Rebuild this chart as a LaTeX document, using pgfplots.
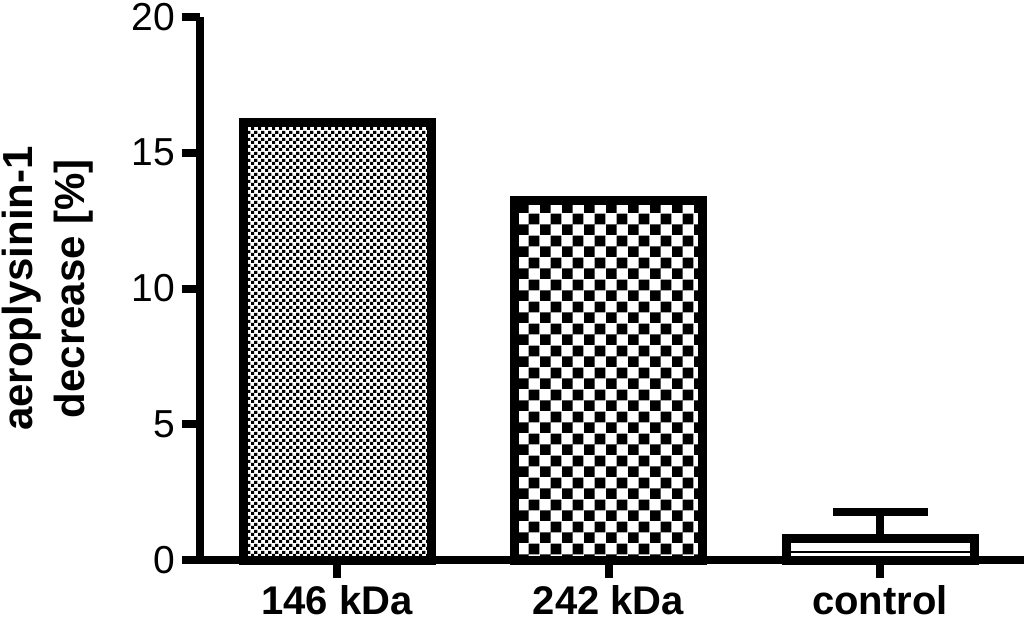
\documentclass[border=0pt]{standalone}
\usepackage{fontspec}
\setmainfont{Liberation Sans}
\usepackage{pgfplots}
\pgfplotsset{compat=1.18}
\usetikzlibrary{patterns}

% fine and coarse checkerboards
\pgfdeclarepatternformonly{finecheck}{\pgfpointorigin}{\pgfpoint{3.3pt}{3.3pt}}{\pgfpoint{3.3pt}{3.3pt}}{
  \pgfpathrectangle{\pgfpointorigin}{\pgfpoint{1.65pt}{1.65pt}}
  \pgfpathrectangle{\pgfpoint{1.65pt}{1.65pt}}{\pgfpoint{1.65pt}{1.65pt}}
  \pgfusepath{fill}}
\pgfdeclarepatternformonly{coarsecheck}{\pgfpointorigin}{\pgfpoint{10.8pt}{10.8pt}}{\pgfpoint{10.8pt}{10.8pt}}{
  \pgfpathrectangle{\pgfpointorigin}{\pgfpoint{5.4pt}{5.4pt}}
  \pgfpathrectangle{\pgfpoint{5.4pt}{5.4pt}}{\pgfpoint{5.4pt}{5.4pt}}
  \pgfusepath{fill}}

\begin{document}
\begin{tikzpicture}
\begin{axis}[
  at={(0,0)}, anchor=south west,
  scale only axis, width=412pt, height=271.5pt,
  xmin=-0.5046, xmax=2.53, ymin=0, ymax=20,
  axis x line*=bottom, axis y line*=left,
  axis line style={line width=4pt, -},
  tick style={line width=4pt, black},
  tick align=outside, major tick length=9pt,
  xtick={0,1,2}, xticklabels={146 kDa, 242 kDa, control},
  ytick={0,5,10,15,20},
  /pgf/number format/assume math mode=true,
  yticklabel style={font=\fontsize{19.5}{20}\selectfont},
  xticklabel style={font=\bfseries\fontsize{20}{22}\selectfont},
  ylabel={aeroplysinin-1\\decrease [\%]},
  ylabel style={at={(axis description cs:0,0.5)}, anchor=south, yshift=50pt,
                align=center, font=\bfseries\fontsize{21}{26}\selectfont},
  ybar, bar width=94pt, bar shift=0pt,
  clip=false,
]
\addplot[pattern=finecheck, draw=black, line width=4.5pt] coordinates {(0,16.1)};
\addplot[pattern=coarsecheck, draw=black, line width=4.5pt] coordinates {(1,13.24)};
\addplot[fill=white, draw=black, line width=4.5pt,
  error bars/.cd, y dir=plus, y explicit,
  error bar style={line width=4pt},
  error mark options={rotate=90, mark size=23.75pt, line width=4pt}]
  coordinates {(2,0.79) +- (0,0.97)};
\addplot[sharp plot, black, line width=1pt, forget plot] coordinates {(1.66,0.3) (2.34,0.3)};
\end{axis}
\pgfresetboundingbox
\path[use as bounding box] (-100pt,-34.5pt) rectangle (412pt,280pt);
\end{tikzpicture}
\end{document}
